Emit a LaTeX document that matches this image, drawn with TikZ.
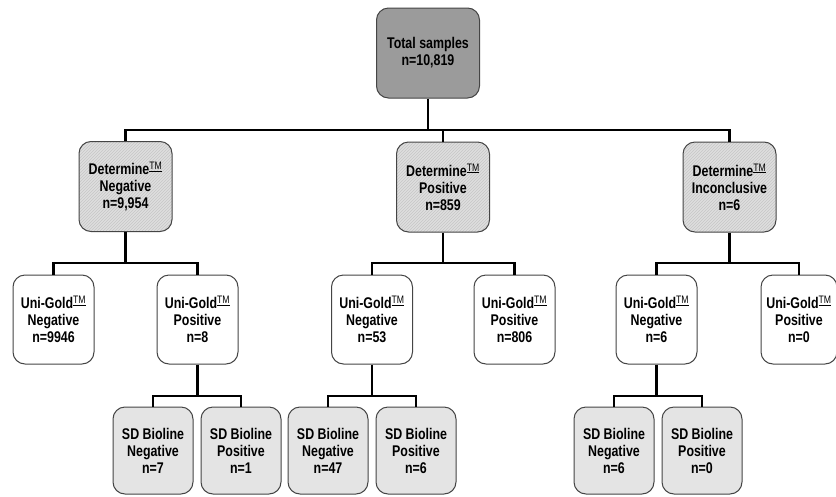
\documentclass[tikz,border=0pt]{standalone}
\usepackage{fontspec}
\setmainfont{Liberation Sans}[FakeStretch=0.8]
\usetikzlibrary{patterns}
\definecolor{boxline}{HTML}{454545}
\definecolor{totalgray}{HTML}{9B9B9B}
\definecolor{hatchback}{HTML}{DEDEDE}
\definecolor{hatchline}{HTML}{C6C6C6}
\definecolor{sdgray}{HTML}{E4E4E4}
\newcommand{\tm}{\textsuperscript{\mdseries\underline{TM}}}
\begin{document}
\begin{tikzpicture}[x=1pt,y=-1pt,
	box/.style={draw=boxline,line width=1pt,rounded corners=12pt,align=center,inner sep=0pt,
		font=\fontsize{15.5}{17}\selectfont\bfseries},
	total/.style={box,fill=totalgray,minimum width=103pt,minimum height=90pt},
	first/.style={box,preaction={fill=hatchback},pattern=north east lines,pattern color=hatchline,
		minimum width=93pt,minimum height=90pt},
	second/.style={box,fill=white,minimum width=81pt,minimum height=89pt},
	third/.style={box,fill=sdgray,minimum width=80pt,minimum height=87pt},
	link/.style={line width=2.8pt}]
	\useasboundingbox (0,0) rectangle (836,496);
	\node [total] (tot) at (428,53) {Total samples\\n=10,819};
	\node [first] (dneg) at (125.5,186.5) {Determine\tm\\Negative\\n=9,954};
	\node [first] (dpos) at (443,187) {Determine\tm\\Positive\\n=859};
	\node [first] (dinc) at (729.5,187) {Determine\tm\\Inconclusive\\n=6};
	\node [second] (ugn1) at (53.5,319.5) {Uni-Gold\tm\\Negative\\n=9946};
	\node [second] (ugp1) at (197.5,319.5) {Uni-Gold\tm\\Positive\\n=8};
	\node [second] (ugn2) at (372,319.5) {Uni-Gold\tm\\Negative\\n=53};
	\node [second] (ugp2) at (514.5,319.5) {Uni-Gold\tm\\Positive\\n=806};
	\node [second] (ugn3) at (656.5,319.5) {Uni-Gold\tm\\Negative\\n=6};
	\node [second,minimum width=76pt] (ugp3) at (799,319.5) {Uni-Gold\tm\\Positive\\n=0};
	\node [third] (sdn1) at (153,450.5) {SD Bioline\\Negative\\n=7};
	\node [third] (sdp1) at (241,450.5) {SD Bioline\\Positive\\n=1};
	\node [third] (sdn2) at (328,450.5) {SD Bioline\\Negative\\n=47};
	\node [third] (sdp2) at (416,450.5) {SD Bioline\\Positive\\n=6};
	\node [third] (sdn3) at (614,450.5) {SD Bioline\\Negative\\n=6};
	\node [third] (sdp3) at (702,450.5) {SD Bioline\\Positive\\n=0};
	\coordinate (j0) at (428,130);
	\coordinate (b1) at (125.5,263);
	\coordinate (b2) at (443,263);
	\coordinate (b3) at (729.5,263);
	\coordinate (c1) at (197.5,396);
	\coordinate (c2) at (372,396);
	\coordinate (c3) at (656.5,396);
	\draw [link] (tot) -- (j0);
	\draw [link] (dneg) |- (j0) -| (dinc);
	\draw [link] (dpos) -- (dpos |- j0);
	\foreach \p/\b/\l/\r in {dneg/b1/ugn1/ugp1,dpos/b2/ugn2/ugp2,dinc/b3/ugn3/ugp3,
		ugp1/c1/sdn1/sdp1,ugn2/c2/sdn2/sdp2,ugn3/c3/sdn3/sdp3} {
		\draw [link] (\p) -- (\b);
		\draw [link] (\l) |- (\b) -| (\r);
	}
\end{tikzpicture}
\end{document}
